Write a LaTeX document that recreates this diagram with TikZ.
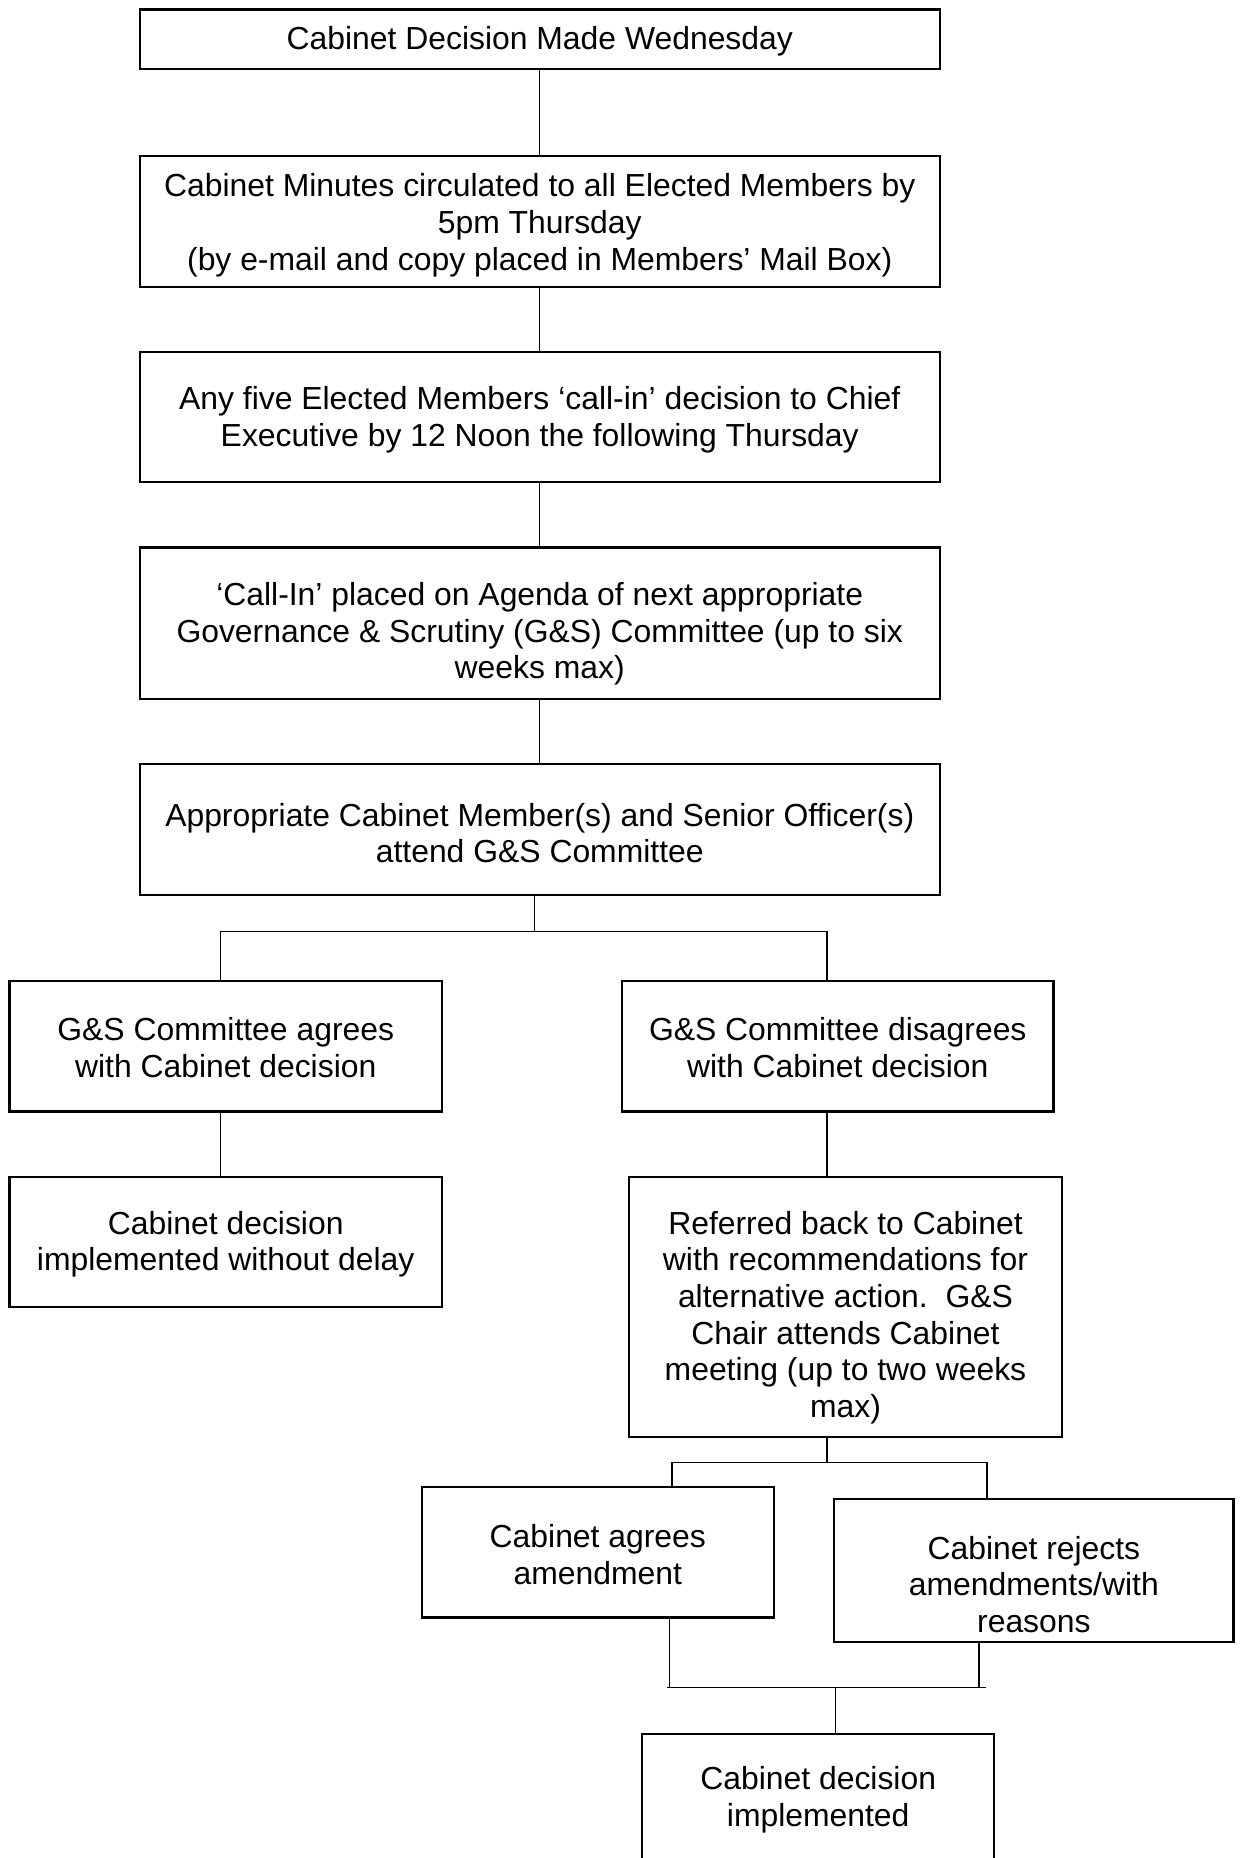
\documentclass[tikz,border=0pt]{standalone}
\usepackage{fontspec}
\setmainfont{Liberation Sans}
\usetikzlibrary{fit}
\tikzset{
  stage/.style={draw, line width=0.8pt, inner sep=0pt},
  words/.style={align=center, inner sep=0pt, font=\fontsize{12}{13.8}\selectfont},
  link/.style={line width=0.55pt},
}
\begin{document}
\begin{tikzpicture}[x=0.446pt, y=-0.446pt]
  \path[use as bounding box, fill=white] (0,0) rectangle (1046,1568);
  % main chain
  \node[stage, fit={(118,8) (793,58)}] (made) {};
  \node[words] (made-t) at (made |- 0,35) {Cabinet Decision Made Wednesday};
  \node[stage, fit={(118,132) (793,242)}] (minutes) {};
  \node[words] (minutes-t) at (minutes |- 0,190) {Cabinet Minutes circulated to all Elected Members by\\5pm Thursday\\(by e-mail and copy placed in Members’ Mail Box)};
  \node[stage, fit={(118,297) (793,407)}] (callin) {};
  \node[words] (callin-t) at (callin |- 0,354) {Any five Elected Members ‘call-in’ decision to Chief\\Executive by 12 Noon the following Thursday};
  \node[stage, fit={(118,462) (793,590)}] (agenda) {};
  \node[words] (agenda-t) at (agenda |- 0,535) {‘Call-In’ placed on Agenda of next appropriate\\Governance \& Scrutiny (G\&S) Committee (up to six\\weeks max)};
  \node[stage, fit={(118,645) (793,755)}] (meeting) {};
  \node[words] (meeting-t) at (meeting |- 0,703) {Appropriate Cabinet Member(s) and Senior Officer(s)\\attend G\&S Committee};
  % two outcomes
  \node[stage, fit={(8,828) (373,938)}] (agree) {};
  \node[words] (agree-t) at (agree |- 0,884) {G\&S Committee agrees\\with Cabinet decision};
  \node[stage, fit={(525,828) (889,938)}] (disagree) {};
  \node[words] (disagree-t) at (disagree |- 0,884) {G\&S Committee disagrees\\with Cabinet decision};
  \node[stage, fit={(8,993) (373,1103)}] (nodelay) {};
  \node[words] (nodelay-t) at (nodelay |- 0,1050) {Cabinet decision\\implemented without delay};
  \node[stage, fit={(531,993) (896,1213)}] (referred) {};
  \node[words] (referred-t) at (referred |- 0,1112) {Referred back to Cabinet\\with recommendations for\\alternative action.\ \ G\&S\\Chair attends Cabinet\\meeting (up to two weeks\\max)};
  % back at cabinet
  \node[stage, fit={(356,1255) (653,1365)}] (accepts) {};
  \node[words] (accepts-t) at (accepts |- 0,1312) {Cabinet agrees\\amendment};
  \node[stage, fit={(704,1265) (1041,1386)}] (rejects) {};
  \node[words] (rejects-t) at (rejects |- 0,1337) {Cabinet rejects\\amendments/with\\reasons};
  \node[stage, fit={(542,1463) (839,1590)}] (implemented) {};
  \node[words] (implemented-t) at (implemented |- 0,1519) {Cabinet decision\\implemented};
  % connectors
  \draw[link] (made) -- (minutes);
  \draw[link] (minutes) -- (callin);
  \draw[link] (callin) -- (agenda);
  \draw[link] (agenda) -- (meeting);
  \coordinate (fork1) at (451,786);
  \draw[link] (meeting.south -| fork1) -- (fork1);
  \draw[link] (agree.north -| 186,0) |- (fork1) -| (disagree.north -| 698,0);
  \draw[link] (agree.south -| 186,0) -- (nodelay.north -| 186,0);
  \draw[link] (disagree.south -| 698,0) -- (referred.north -| 698,0);
  \coordinate (fork2) at (698,1234);
  \draw[link] (referred.south -| fork2) -- (fork2);
  \draw[link] (accepts.north -| 567,0) |- (fork2) -| (rejects.north -| 833,0);
  \coordinate (join) at (705,1424);
  \draw[link] (accepts.south -| 565,0) |- (join) -| (rejects.south -| 826,0);
  \draw[link] (join -| 563,0) -- (join -| 832,0);
  \draw[link] (join) -- (implemented.north -| join);
\end{tikzpicture}
\end{document}
